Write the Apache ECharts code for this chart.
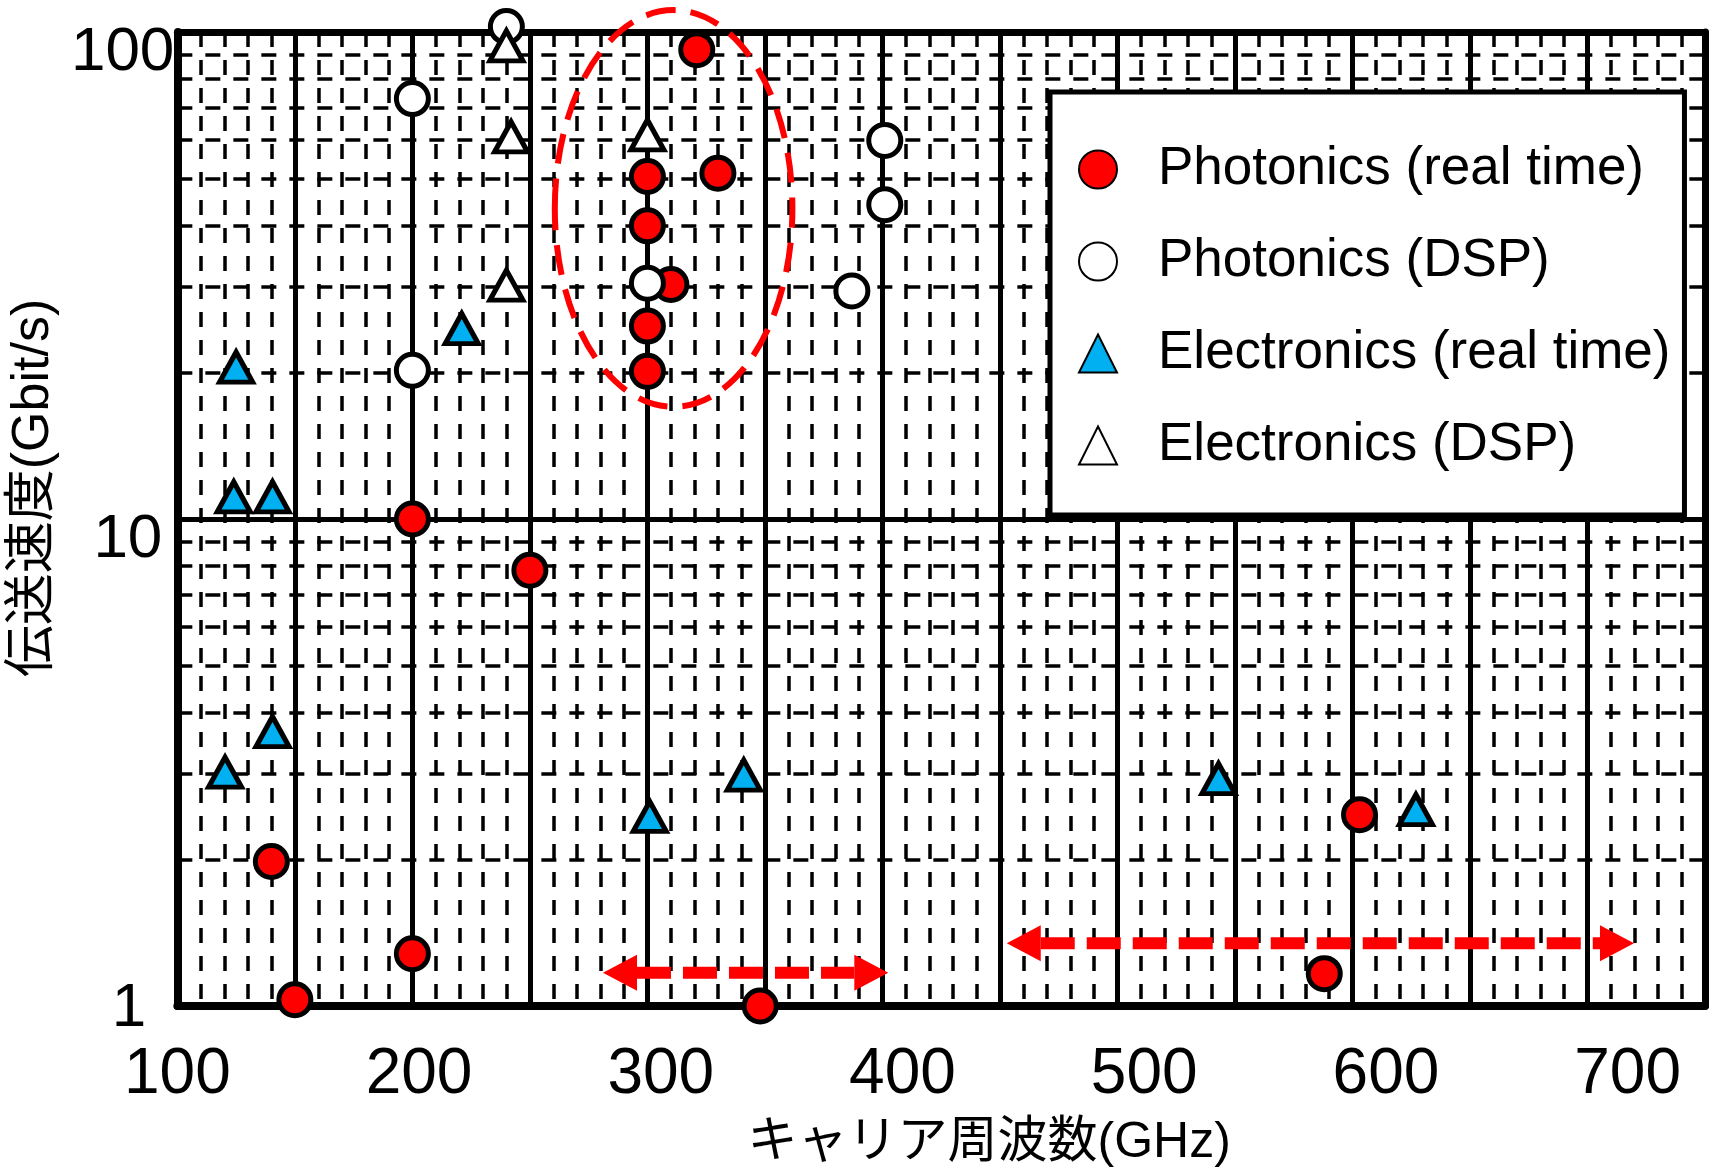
<!DOCTYPE html>
<html><head><meta charset="utf-8">
<script src="https://cdn.jsdelivr.net/npm/echarts@6/dist/echarts.min.js"></script>
<style>html,body{margin:0;padding:0;background:#fff}#c{width:1713px;height:1173px}</style>
</head><body><div id="c"></div>
<script>
// ---- data ----
const xTickValues = [100, 200, 300, 400, 500, 600, 700];
const xTickLabels = ['100', '200', '300', '400', '500', '600', '700'];
const yTickValues = [1, 10, 100];
const yTickLabels = ['1', '10', '100'];
const seriesNames = ['Photonics (real time)', 'Photonics (DSP)', 'Electronics (real time)', 'Electronics (DSP)'];
const photonicsRealTime = [[140, 1.98], [150, 1.03], [200, 10], [200, 1.28], [250, 7.85], [321, 92], [300, 50.5], [330, 51.3], [300, 40], [310, 30.3], [300, 24.9], [300, 20.1], [348, 1.0], [588, 1.165], [603, 2.47]];
const photonicsDSP = [[200, 73], [200, 20.2], [240, 102.6], [300, 30.5], [401, 59.9], [401, 44.2], [387, 29.4]];
const electronicsRealTime = [[125, 20.5], [124, 11.1], [140.5, 11.1], [221, 24.6], [140.5, 3.66], [120.3, 3.02], [301, 2.45], [341, 2.98], [543, 2.93], [627, 2.53]];
const electronicsDSP = [[240, 93.7], [242, 60.9], [240, 30.2], [300, 61.5]];
const minorGridValues = [2, 3, 4, 5, 6, 7, 8, 9, 20, 30, 40, 50, 60, 70, 80, 90];
const arrowSpans = [[281.1, 402.5, 1.17], [452.9, 719.8, 1.346]];   // [from GHz, to GHz, Gbit/s]
const ellipseBox = [[260.6, 361.7, 17.0, 110.9]];                  // [x1, x2, y1, y2]

const NUM_FONT = "'Liberation Sans', Arial, sans-serif";
const JP_FONT = "'Liberation Sans', 'Noto Sans CJK JP', sans-serif";
const RED = '#FF0000', BLUE = '#00B0F0';

const chart = echarts.init(document.getElementById('c'), null, {renderer: 'canvas'});

const yRich = {
  a: {fontSize: 62, fontFamily: NUM_FONT, color: '#000', padding: [6, 28, 0, 0]},
  b: {fontSize: 62, fontFamily: NUM_FONT, color: '#000', padding: [42, 12, 0, 0]},
  c: {fontSize: 62, fontFamily: NUM_FONT, color: '#000', padding: [42, 0, 0, 0]}
};
const yKeys = ['a', 'b', 'c'];

function scatter(name, data, symbol, size, fill) {
  return {
    name, type: 'scatter', data, symbol, symbolSize: size, z: 6, clip: false,
    itemStyle: {color: fill, borderColor: '#000', borderWidth: 5, opacity: 1},
    emphasis: {disabled: true}
  };
}

const option = {
  animation: false,
  backgroundColor: '#fff',
  grid: {left: 175, right: 8, top: 32, bottom: 165, containLabel: false},
  legend: {
    data: seriesNames, orient: 'vertical', left: 1050, top: 92,
    padding: [51, 14, 43, 28], itemGap: 39, itemWidth: 38, itemHeight: 38,
    backgroundColor: '#fff', borderColor: '#000', borderWidth: 5,
    selectedMode: false,
    textStyle: {fontSize: 53, fontFamily: NUM_FONT, color: '#000', lineHeight: 52, padding: [0, 0, 0, 36]}
  },
  xAxis: [
    {
      type: 'value', min: 100, max: 750, interval: 50, position: 'bottom',
      axisLine: {show: true, onZero: false, lineStyle: {color: '#000', width: 8}},
      axisTick: {show: false}, axisLabel: {show: false},
      splitLine: {show: true, lineStyle: {color: '#000', width: 5}},
      minorTick: {show: false, splitNumber: 5},
      minorSplitLine: {show: true, lineStyle: {color: '#000', width: 3.5, type: [15, 13]}},
      name: 'キャリア周波数(GHz)', nameLocation: 'middle', nameGap: 112,
      nameTextStyle: {fontSize: 50, fontFamily: JP_FONT, color: '#000', padding: [0, 0, 0, 96]}
    },
    {
      type: 'value', min: 100, max: 732, interval: 100, position: 'bottom',
      axisLine: {show: false, onZero: false}, axisTick: {show: false}, splitLine: {show: false},
      axisLabel: {
        show: true, fontSize: 64, fontFamily: NUM_FONT, color: '#000', margin: 37, showMaxLabel: false,
        formatter: v => { const i = xTickValues.indexOf(v); return i >= 0 ? xTickLabels[i] : ''; }
      }
    },
    {
      type: 'value', min: 100, max: 750, position: 'top',
      axisLine: {show: true, onZero: false, lineStyle: {color: '#000', width: 7}},
      axisTick: {show: false}, axisLabel: {show: false}, splitLine: {show: false}
    }
  ],
  yAxis: [
    {
      type: 'log', logBase: 10, min: 1, max: 100, position: 'left',
      axisLine: {show: true, onZero: false, lineStyle: {color: '#000', width: 8}},
      axisTick: {show: false},
      splitLine: {show: true, lineStyle: {color: '#000', width: 5}},
      axisLabel: {
        show: true, margin: 3, color: '#000',
        formatter: v => { const i = yTickValues.indexOf(Math.round(v)); return i >= 0 ? '{' + yKeys[i] + '|' + yTickLabels[i] + '}' : ''; },
        rich: yRich
      },
      name: '伝送速度(Gbit/s)', nameLocation: 'middle', nameGap: 100, nameRotate: 90,
      nameTextStyle: {fontSize: 52, fontFamily: JP_FONT, color: '#000', padding: [0, 0, 0, 62]}
    },
    {
      type: 'log', logBase: 10, min: 1, max: 100, position: 'right',
      axisLine: {show: true, onZero: false, lineStyle: {color: '#000', width: 7}},
      axisTick: {show: false}, axisLabel: {show: false}, splitLine: {show: false}
    }
  ],
  series: [
    {
      type: 'line', data: [], z: 1, silent: true,
      markLine: {
        z: 1, silent: true, symbol: ['none', 'none'], animation: false,
        label: {show: false}, emphasis: {disabled: true},
        lineStyle: {color: '#000', width: 3.5, type: [15, 13]},
        data: minorGridValues.map(v => ({yAxis: v}))
      }
    },
    scatter(seriesNames[0], photonicsRealTime, 'circle', 32, RED),
    scatter(seriesNames[1], photonicsDSP, 'circle', 32, '#fff'),
    scatter(seriesNames[2], electronicsRealTime, 'triangle', [33, 30], BLUE),
    scatter(seriesNames[3], electronicsDSP, 'triangle', [33, 30], '#fff'),
    {
      type: 'custom', z: 5, silent: true, data: ellipseBox, clip: false,
      encode: {x: [0, 1], y: [2, 3]},
      renderItem: (params, api) => {
        const a = api.coord([api.value(0), api.value(2)]);
        const b = api.coord([api.value(1), api.value(3)]);
        return {
          type: 'ellipse',
          shape: {cx: (a[0] + b[0]) / 2, cy: (a[1] + b[1]) / 2, rx: Math.abs(b[0] - a[0]) / 2, ry: Math.abs(b[1] - a[1]) / 2},
          style: {fill: 'none', stroke: RED, lineWidth: 6, lineDash: [30, 15]}
        };
      }
    },
    {
      type: 'custom', z: 5, silent: true, data: arrowSpans, clip: false,
      encode: {x: [0, 1], y: 2},
      renderItem: (params, api) => {
        const p1 = api.coord([api.value(0), api.value(2)]);
        const p2 = api.coord([api.value(1), api.value(2)]);
        const head = 34, half = 18;
        return {
          type: 'group', children: [
            {type: 'line', shape: {x1: p1[0] + head, y1: p1[1], x2: p2[0] - head, y2: p2[1]},
             style: {stroke: RED, lineWidth: 12, lineDash: [34, 12]}},
            {type: 'polygon', shape: {points: [[p1[0], p1[1]], [p1[0] + head, p1[1] - half], [p1[0] + head, p1[1] + half]]}, style: {fill: RED}},
            {type: 'polygon', shape: {points: [[p2[0], p2[1]], [p2[0] - head, p2[1] - half], [p2[0] - head, p2[1] + half]]}, style: {fill: RED}}
          ]
        };
      }
    }
  ]
};
chart.setOption(option);
</script></body></html>
